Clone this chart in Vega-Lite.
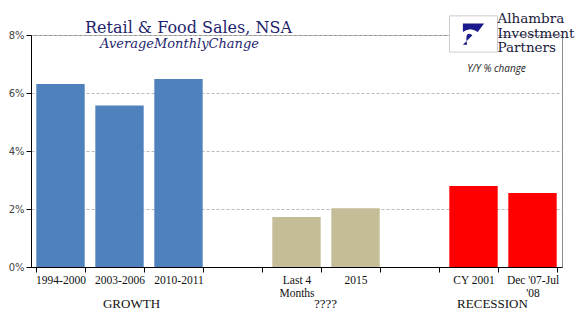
{
  "$schema": "https://vega.github.io/schema/vega-lite/v6.json",
  "width": 531,
  "height": 232,
  "autosize": "none",
  "padding": {"left": 31, "top": 35, "right": 21, "bottom": 57},
  "background": "white",
  "config": {
    "view": {"stroke": "#8c8c8c", "strokeWidth": 1},
    "axis": {"labelFont": "DejaVu Sans", "labelColor": "#333"}
  },
  "layer": [
    {
      "data": {
        "values": [
          {"period": "1994-2000", "value": 6.31, "group": "GROWTH"},
          {"period": "2003-2006", "value": 5.57, "group": "GROWTH"},
          {"period": "2010-2011", "value": 6.48, "group": "GROWTH"},
          {"period": "Last 4|Months", "value": 1.72, "group": "????"},
          {"period": "2015", "value": 2.03, "group": "????"},
          {"period": "CY 2001", "value": 2.79, "group": "RECESSION"},
          {"period": "Dec '07-Jul|'08", "value": 2.55, "group": "RECESSION"}
        ]
      },
      "mark": {"type": "bar"},
      "encoding": {
        "x": {
          "field": "period",
          "type": "nominal",
          "sort": null,
          "scale": {
            "domain": ["1994-2000", "2003-2006", "2010-2011", " ", "Last 4|Months", "2015", "  ", "CY 2001", "Dec '07-Jul|'08"],
            "paddingInner": 0.18,
            "paddingOuter": 0.09
          },
          "axis": {
            "title": null,
            "labelAngle": 0,
            "labelExpr": "split(datum.label, '|')",
            "labelFont": "Liberation Serif",
            "labelFontSize": 11.5,
            "labelColor": "#111",
            "labelLineHeight": 13,
            "labelPadding": 2,
            "tickBand": "extent",
            "tickSize": 5,
            "tickColor": "#000",
            "domainColor": "#000",
            "labelBaseline": "top"
          }
        },
        "y": {
          "field": "value",
          "type": "quantitative",
          "scale": {"domain": [0, 8]},
          "axis": {
            "title": null,
            "values": [0, 2, 4, 6, 8],
            "labelExpr": "datum.value + '%'",
            "labelFontSize": 10,
            "labelColor": "#444",
            "labelPadding": 2,
            "tickSize": 5,
            "tickColor": "#000",
            "domainColor": "#000",
            "gridDash": [3, 2],
            "gridColor": "#bbbbbb"
          }
        },
        "color": {
          "field": "group",
          "type": "nominal",
          "scale": {"domain": ["GROWTH", "????", "RECESSION"], "range": ["#4F81BD", "#C4BD97", "#FF0000"]},
          "legend": null
        }
      }
    },
    {
      "data": {"values": [{"t": "Retail & Food Sales, NSA"}]},
      "mark": {"type": "text", "font": "DejaVu Serif", "fontSize": 16, "color": "#1f1f6e", "baseline": "alphabetic", "align": "center", "dx": 10, "clip": false},
      "encoding": {"x": {"datum": "2010-2011"}, "y": {"datum": 8.07}, "text": {"field": "t"}}
    },
    {
      "data": {"values": [{"t": "AverageMonthlyChange"}]},
      "mark": {"type": "text", "font": "DejaVu Serif", "fontSize": 13, "fontStyle": "italic", "color": "#1f1f6e", "baseline": "alphabetic", "align": "center", "dx": 1, "clip": false},
      "encoding": {"x": {"datum": "2010-2011"}, "y": {"datum": 7.55}, "text": {"field": "t"}}
    },
    {
      "data": {"values": [{"t": "logo"}]},
      "mark": {"type": "rect", "fill": "white", "stroke": "#cccccc", "strokeWidth": 1, "clip": false, "width": 48},
      "encoding": {"x": {"datum": "CY 2001"}, "y": {"datum": 7.41}, "y2": {"datum": 8.66}}
    },
    {
      "data": {"values": [{"t": "logo"}]},
      "mark": {"type": "point", "filled": true, "color": "#1a1a8c", "opacity": 1, "size": 450, "shape": "M-1,1 L-0.1,0.1 Q-0.9,-0.4 -0.6,1 Z M-1,-1 L1,-1 L0.4,-0.2 Q-0.3,-0.7 -1,-0.2 Z", "clip": false},
      "encoding": {"x": {"datum": "CY 2001"}, "y": {"datum": 8.03}}
    },
    {
      "data": {"values": [{"t": "Alhambra|Investment|Partners"}]},
      "mark": {"type": "text", "font": "DejaVu Serif", "fontSize": 13.5, "color": "#1a1a3a", "baseline": "top", "align": "left", "dx": -35, "lineHeight": 14.5, "lineBreak": "|", "clip": false},
      "encoding": {"x": {"datum": "Dec '07-Jul|'08"}, "y": {"datum": 8.78}, "text": {"field": "t"}}
    },
    {
      "data": {"values": [{"t": "Y/Y % change"}]},
      "mark": {"type": "text", "font": "Open Sans", "fontSize": 10, "fontStyle": "italic", "color": "#222", "baseline": "middle", "align": "center", "dx": -36, "clip": false},
      "encoding": {"x": {"datum": "Dec '07-Jul|'08"}, "y": {"datum": 6.83}, "text": {"field": "t"}}
    },
    {
      "data": {"values": [{"t": "GROWTH"}]},
      "mark": {"type": "text", "font": "Liberation Serif", "fontSize": 13, "color": "#111", "baseline": "middle", "align": "center", "dx": 12, "clip": false},
      "encoding": {"x": {"datum": "2003-2006"}, "y": {"datum": -1.29}, "text": {"field": "t"}}
    },
    {
      "data": {"values": [{"t": "????"}]},
      "mark": {"type": "text", "font": "Liberation Serif", "fontSize": 13, "color": "#111", "baseline": "middle", "align": "center", "dx": 29, "clip": false},
      "encoding": {"x": {"datum": "Last 4|Months"}, "y": {"datum": -1.29}, "text": {"field": "t"}}
    },
    {
      "data": {"values": [{"t": "RECESSION"}]},
      "mark": {"type": "text", "font": "Liberation Serif", "fontSize": 13, "color": "#111", "baseline": "middle", "align": "center", "dx": 19, "clip": false},
      "encoding": {"x": {"datum": "CY 2001"}, "y": {"datum": -1.29}, "text": {"field": "t"}}
    }
  ]
}
